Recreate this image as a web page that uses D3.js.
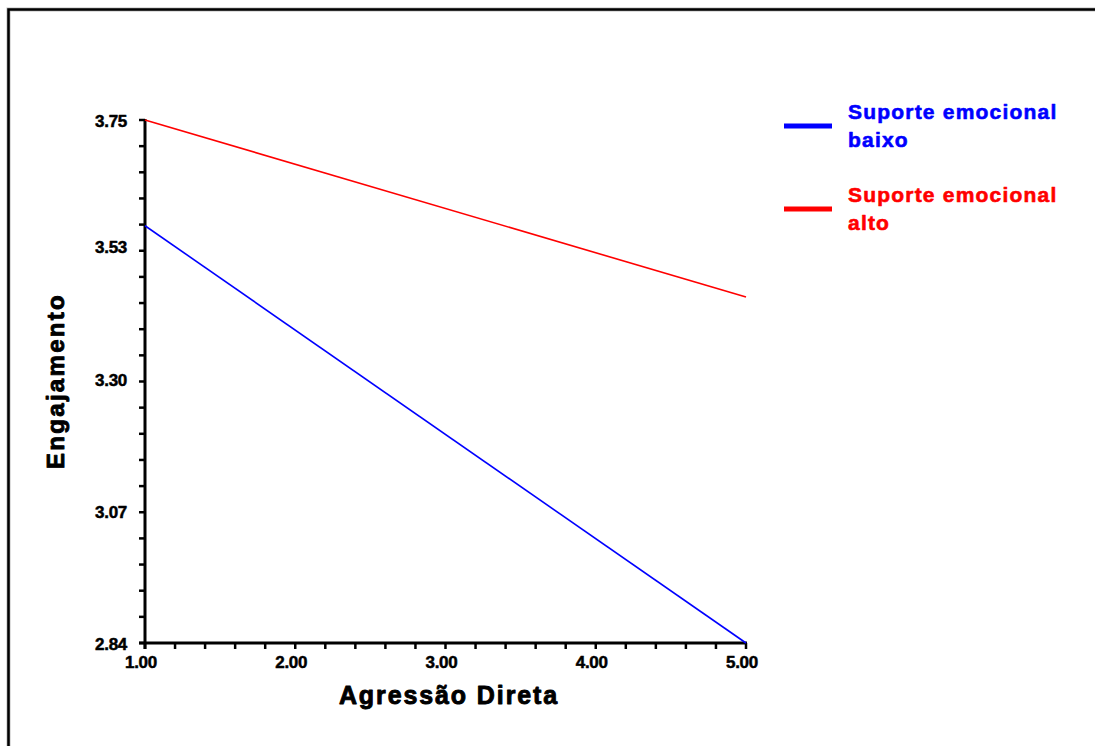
<!DOCTYPE html>
<html>
<head>
<meta charset="utf-8">
<script src="https://cdn.jsdelivr.net/npm/d3@7"></script>
<style>
  html, body { margin: 0; padding: 0; background: #fff; }
  svg { display: block; }
  text { font-family: "Liberation Sans", Arial, sans-serif; font-weight: bold; }
</style>
</head>
<body>
<svg id="chart" width="1095" height="746"></svg>
<script>
// Predicted engagement at the ends of the moderator range
const xValues = [1.00, 5.00];
const seriesNames = ["Suporte emocional baixo", "Suporte emocional alto"];
const lowSupport = [3.566, 2.84];
const highSupport = [3.75, 3.442];
const seriesColors = ["#0000ff", "#ff0000"];
const xTicks = [1.00, 2.00, 3.00, 4.00, 5.00];
const yTicks = [2.84, 3.07, 3.30, 3.53, 3.75];
const xTitle = "Agressão Direta";
const yTitle = "Engajamento";

const svg = d3.select("#chart");

// outer frame
svg.append("rect")
  .attr("x", 8.5).attr("y", 9.5)
  .attr("width", 1200).attr("height", 900)
  .attr("fill", "none").attr("stroke", "#bbb").attr("stroke-width", 4);
svg.append("rect")
  .attr("x", 8.5).attr("y", 9.5)
  .attr("width", 1200).attr("height", 900)
  .attr("fill", "none").attr("stroke", "#000").attr("stroke-width", 2.5);

const plot = { left: 145, right: 746, top: 120, bottom: 643 };

const x = d3.scaleLinear().domain([1, 5]).range([plot.left, plot.right]);
const y = d3.scaleLinear().domain([2.84, 3.75]).range([plot.bottom, plot.top]);

// minor ticks (5 subdivisions per labelled interval)
const xMinor = d3.range(0, 21).map(i => 1 + i * 0.2);
const yMinor = d3.range(0, 21).map(i => 2.84 + i * (0.91 / 20));

const g = svg.append("g");

g.selectAll(".xminor").data(xMinor).join("line")
  .attr("x1", d => x(d)).attr("x2", d => x(d))
  .attr("y1", plot.bottom).attr("y2", plot.bottom + 6)
  .attr("stroke", "#000").attr("stroke-width", 2.5);
g.selectAll(".yminor").data(yMinor).join("line")
  .attr("x1", plot.left - 6).attr("x2", plot.left)
  .attr("y1", d => y(d)).attr("y2", d => y(d))
  .attr("stroke", "#000").attr("stroke-width", 2.5);

// axes lines
g.append("line")
  .attr("x1", plot.left).attr("x2", plot.left)
  .attr("y1", plot.top - 1).attr("y2", plot.bottom + 6)
  .attr("stroke", "#000").attr("stroke-width", 3);
g.append("line")
  .attr("x1", plot.left - 6).attr("x2", plot.right + 1)
  .attr("y1", plot.bottom).attr("y2", plot.bottom)
  .attr("stroke", "#000").attr("stroke-width", 3);

// heavy text helper
function heavy(sel, color, w) {
  return sel.attr("fill", color).attr("stroke", color)
    .attr("stroke-width", w).attr("stroke-linejoin", "round");
}

// tick labels
heavy(g.selectAll(".xlab").data(xTicks).join("text")
  .attr("x", d => x(d) - 4).attr("y", plot.bottom + 25)
  .attr("text-anchor", "middle")
  .attr("font-size", 17).attr("letter-spacing", -0.3)
  .text(d => d.toFixed(2)), "#000", 0.5);
heavy(g.selectAll(".ylab").data(yTicks).join("text")
  .attr("x", plot.left - 18).attr("y", d => y(d) + 7)
  .attr("text-anchor", "end")
  .attr("font-size", 17).attr("letter-spacing", -0.3)
  .text(d => d.toFixed(2)), "#000", 0.5);

// axis titles
heavy(svg.append("text")
  .attr("x", 449).attr("y", 704)
  .attr("text-anchor", "middle")
  .attr("font-size", 25).attr("letter-spacing", 1.9)
  .text(xTitle), "#000", 0.9);
heavy(svg.append("text")
  .attr("transform", "translate(64,381) rotate(-90)")
  .attr("text-anchor", "middle")
  .attr("font-size", 24).attr("letter-spacing", 2.3)
  .text(yTitle), "#000", 0.9);

// lines
const line = d3.line().x((d, i) => x(xValues[i])).y(d => y(d));
[lowSupport, highSupport].forEach((vals, i) => {
  svg.append("path")
    .datum(vals)
    .attr("d", line)
    .attr("fill", "none")
    .attr("stroke", seriesColors[i])
    .attr("stroke-width", 1.6);
});

// legend
const legendY = [126, 209];
seriesNames.forEach((name, i) => {
  const lg = svg.append("g");
  lg.append("line")
    .attr("x1", 784).attr("x2", 832)
    .attr("y1", legendY[i]).attr("y2", legendY[i])
    .attr("stroke", seriesColors[i]).attr("stroke-width", 5);
  const words = name.split(" ");
  const lines = [words.slice(0, 2).join(" "), words.slice(2).join(" ")];
  lines.forEach((t, j) => {
    heavy(lg.append("text")
      .attr("x", 848).attr("y", legendY[i] - 7 + j * 28)
      .attr("font-size", 21).attr("letter-spacing", 1.2)
      .text(t), seriesColors[i], 0.6);
  });
});
</script>
</body>
</html>
